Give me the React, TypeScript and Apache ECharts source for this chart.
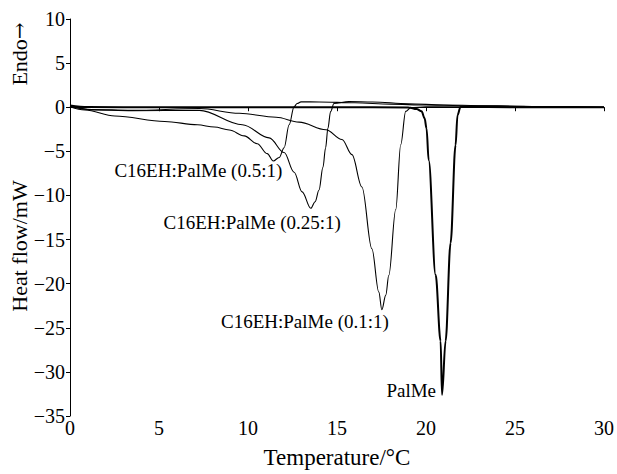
import React, { useEffect, useRef } from "react";
import * as echarts from "echarts";

// [temperature °C, heat flow mW]
const palMe: [number, number][] = [
  [0, 0.2], [1, 0.02], [5, 0], [10, 0], [15, 0], [19.03, -0.02], [19.47, -0.2], [19.75, -0.47],
  [19.92, -1.25], [20.03, -2.4], [20.15, -6.0], [20.54, -19.0], [20.82, -26.5], [20.9, -32.6],
  [21.1, -26.5], [21.38, -15.4], [21.66, -4.3], [21.77, -0.9], [21.94, 0.03], [25, 0], [30, 0],
];
const c01: [number, number][] = [
  [0, 0.1], [1.23, -0.25], [3.47, -0.36], [7.27, -0.15], [9.51, -0.69], [11.58, -1.14],
  [12.87, -1.69], [14.38, -2.55], [15.28, -3.66], [15.84, -5.37], [16.4, -9.04], [16.96, -16.05],
  [17.35, -20.96], [17.52, -22.96], [17.74, -21.3], [17.91, -19.06], [18.3, -11.6], [18.58, -4.25],
  [18.86, -0.47], [19.14, -0.05], [20, 0.05], [25, 0.03], [30, 0],
];
const c025: [number, number][] = [
  [0, 0.1], [1.2, -0.3], [3.5, -0.4], [7.27, -0.36], [9.68, -1.99], [11.19, -3.47], [12.03, -5.14],
  [12.59, -7.37], [13.04, -9.6], [13.53, -11.46], [13.77, -10.71], [13.99, -9.38], [14.21, -6.82],
  [14.36, -4.59], [14.49, -2.36], [14.64, -0.5], [14.83, 0.42], [15.67, 0.65], [17, 0.6],
  [19, 0.4], [21, 0.25], [24, 0.15], [27, 0.05], [30, 0],
];
const c05: [number, number][] = [
  [0, 0.05], [0.84, -0.32], [2.52, -0.99], [5.32, -1.61], [7.16, -1.99], [8.11, -2.25],
  [8.95, -2.58], [9.79, -3.25], [10.52, -4.14], [11.08, -5.26], [11.42, -6.09], [11.75, -5.7],
  [12.03, -4.59], [12.31, -1.99], [12.59, 0.06], [12.76, 0.42], [12.98, 0.61], [14, 0.6],
  [16, 0.5], [18, 0.35], [20, 0.25], [23, 0.15], [27, 0.05], [30, 0],
];

const seriesNames = ["PalMe", "C16EH:PalMe (0.1:1)", "C16EH:PalMe (0.25:1)", "C16EH:PalMe (0.5:1)"];
const seriesData = [palMe, c01, c025, c05];
const lineWidths = [2, 1.1, 1.1, 1.1];
// label anchor offsets relative to each curve's minimum, in px
const labelOffsets: [number, number][] = [[-6, -4], [7, 12], [30, 14], [9, 9.5]];

const xTicks = { min: 0, max: 30, interval: 5 };
const yTicks = { min: -35, max: 10, interval: 5 };

const FONT = '"Liberation Serif", "Times New Roman", serif';

export default function App() {
  const ref = useRef<HTMLDivElement>(null);
  useEffect(() => {
    document.body.style.margin = "0";
    const chart = echarts.init(ref.current!, null, { renderer: "svg" });
    const fmt = (v: number) => String(v).replace("-", "\u2212");
    chart.setOption({
      animation: false,
      backgroundColor: "#fff",
      textStyle: { fontFamily: FONT },
      grid: { left: 70, right: 11, top: 19, bottom: 51 },
      xAxis: {
        type: "value",
        ...xTicks,
        name: "Temperature/°C",
        nameLocation: "middle",
        nameGap: 30,
        nameTextStyle: { fontFamily: FONT, fontSize: 23, color: "#000" },
        axisLine: { show: true, lineStyle: { color: "#000", width: 1 } },
        axisTick: { show: true, length: 4, lineStyle: { color: "#000" } },
        axisLabel: { fontFamily: FONT, fontSize: 20, color: "#000", margin: 2, formatter: fmt },
        splitLine: { show: false },
      },
      yAxis: {
        type: "value",
        ...yTicks,
        axisLine: { show: true, onZero: false, lineStyle: { color: "#000", width: 1 } },
        axisTick: { show: true, length: 4, lineStyle: { color: "#000" } },
        axisLabel: { fontFamily: FONT, fontSize: 20, color: "#000", margin: 5, formatter: fmt },
        splitLine: { show: false },
      },
      graphic: [
        {
          type: "text",
          x: 19,
          y: 246,
          rotation: Math.PI / 2,
          style: { text: "Heat flow/mW", font: `22px ${FONT}`, fill: "#000", align: "center", verticalAlign: "middle" },
        },
        {
          type: "text",
          x: 19,
          y: 54,
          rotation: Math.PI / 2,
          style: {
            text: "{a|Endo}{b|\u2192}",
            align: "center",
            verticalAlign: "middle",
            rich: {
              a: { fontFamily: FONT, fontSize: 22, fill: "#000", color: "#000" },
              b: { fontFamily: '"DejaVu Serif", serif', fontSize: 20, fill: "#000", color: "#000" },
            },
          },
        },
      ],
      series: seriesData.map((d, i) => {
        let minPt = d[0];
        d.forEach((p) => { if (p[1] < minPt[1]) minPt = p; });
        return {
          type: "line",
          name: seriesNames[i],
          data: d,
          showSymbol: false,
          smooth: 0.35,
          smoothMonotone: "x",
          lineStyle: { color: "#000", width: lineWidths[i] },
          markPoint: {
            symbol: "circle",
            symbolSize: 0,
            data: [{ coord: minPt }],
            label: {
              show: true,
              position: labelOffsets[i],
              align: "right",
              verticalAlign: "middle",
              formatter: seriesNames[i],
              fontFamily: FONT,
              fontSize: 19,
              color: "#000",
            },
          },
        };
      }),
    });
    return () => chart.dispose();
  }, []);
  return <div ref={ref} style={{ width: 617, height: 474 }} />;
}
